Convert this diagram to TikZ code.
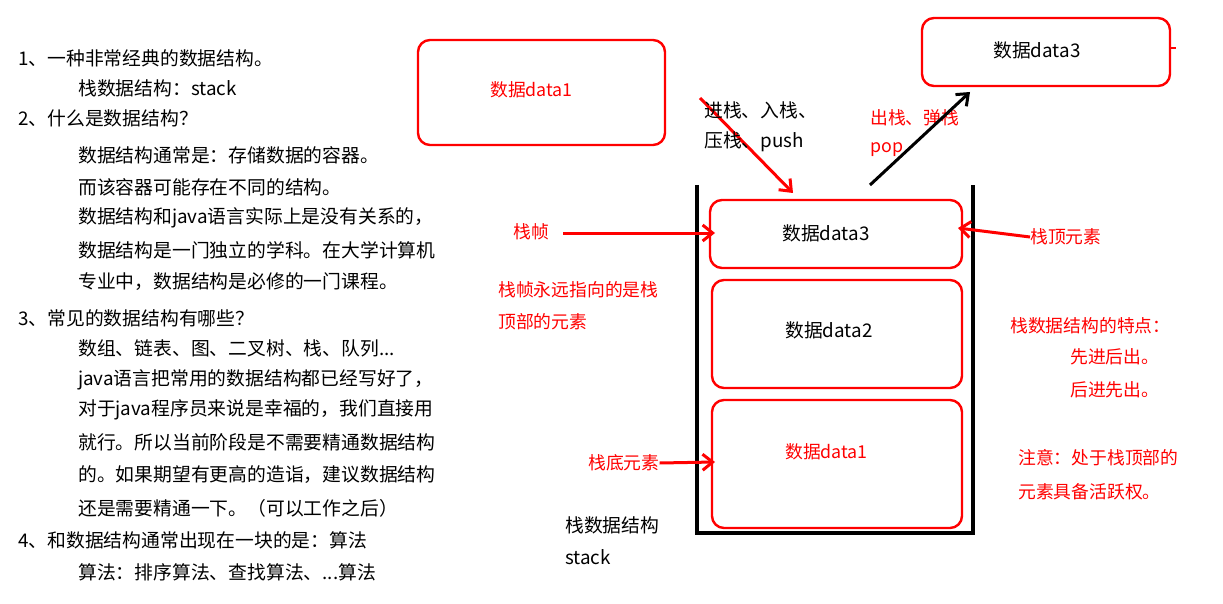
\documentclass[tikz,border=0pt]{standalone}
\usepackage{fontspec}
\setmainfont{Noto Sans CJK SC}
\usetikzlibrary{arrows.meta}
\begin{document}
\begin{tikzpicture}[x=1pt,y=-1pt,
  t/.style={anchor=west,inner sep=0pt,font=\fontsize{18.8}{20}\selectfont},
  rt/.style={t,text=red,font=\fontsize{17.8}{20}\selectfont},
  rbox/.style={draw=red,line width=2.4pt,rounded corners=12pt},
  rarr/.style={draw=red,line width=3pt,-{Straight Barb[length=10pt,width=16pt]}},
  barr/.style={draw=black,line width=3pt,-{Straight Barb[length=10pt,width=16pt]}}]
\useasboundingbox (0,0) rectangle (1223,604);
% left text
\foreach \y/\x/\s in {58/18/{1、一种非常经典的数据结构。},88/78/{栈数据结构：stack},118/18/{2、什么是数据结构？},155/78/{数据结构通常是：存储数据的容器。},187/78/{而该容器可能存在不同的结构。},218/78/{数据结构和java语言实际上是没有关系的，},250/78/{数据结构是一门独立的学科。在大学计算机},282/78/{专业中，数据结构是必修的一门课程。},318/18/{3、常见的数据结构有哪些？},348/78/{数组、链表、图、二叉树、栈、队列...},380/78/{java语言把常用的数据结构都已经写好了，},410/78/{对于java程序员来说是幸福的，我们直接用},442/78/{就行。所以当前阶段是不需要精通数据结构},475/78/{的。如果期望有更高的造诣，建议数据结构},508/78/{还是需要精通一下。（可以工作之后）},540/18/{4、和数据结构通常出现在一块的是：算法},572/78/{算法：排序算法、查找算法、...算法}}
  \node[t] at (\x,\y) {\s};
% top boxes
\draw[rbox] (418,40) rectangle (665,145);
\node[rt] (d1top) at (490,90) {数据data1};
\draw[rbox] (922,18) rectangle (1170,86);
\node[t] (d3top) at (993,50) {数据data3};
\draw[red,line width=2pt] (1170,48) -- (1176,48);
% container
\draw[line width=4pt] (697,185) -- (697,533) -- (973,533) -- (973,185);
\draw[rbox] (710,200) rectangle (962,268);
\node[t] (s3) at (782,233) {数据data3};
\draw[rbox] (712,280) rectangle (962,388);
\node[t] (s2) at (785,330) {数据data2};
\draw[rbox] (712,400) rectangle (962,528);
\node[rt] (s1) at (785,452) {数据data1};
% push
\coordinate (pa) at (700,98); \coordinate (pb) at (793,193);
\draw[rarr] (pa) -- (pb);
\node[t] at (704,110) {进栈、入栈、};
\node[t] at (704,142) {压栈、push};
% pop
\coordinate (qa) at (870,185); \coordinate (qb) at (970,92);
\node[rt] at (870,118) {出栈、弹栈};
\node[rt] at (870,150) {pop};
\draw[barr] (qa) -- (qb);
% labels
\node[rt] (zz) at (513,232) {栈帧};
\coordinate (zze) at (715,233);
\draw[rarr] (zz.east) ++(14,1) -- (zze);
\node[rt] (top) at (1030,237) {栈顶元素};
\coordinate (tope) at (958,228);
\draw[rarr] (top.west) -- (tope);
\node[rt] at (498,290) {栈帧永远指向的是栈};
\node[rt] at (498,322) {顶部的元素};
\node[rt] at (1010,326) {栈数据结构的特点：};
\node[rt] at (1070,357) {先进后出。};
\node[rt] at (1070,390) {后进先出。};
\node[rt] (bot) at (588,463) {栈底元素};
\coordinate (bote) at (715,462);
\draw[rarr] (bot.east) -- (bote);
\node[rt] at (1018,458) {注意：处于栈顶部的};
\node[rt] at (1018,492) {元素具备活跃权。};
\node[t] at (565,525) {栈数据结构};
\node[t] at (565,557) {stack};
\end{tikzpicture}
\end{document}
